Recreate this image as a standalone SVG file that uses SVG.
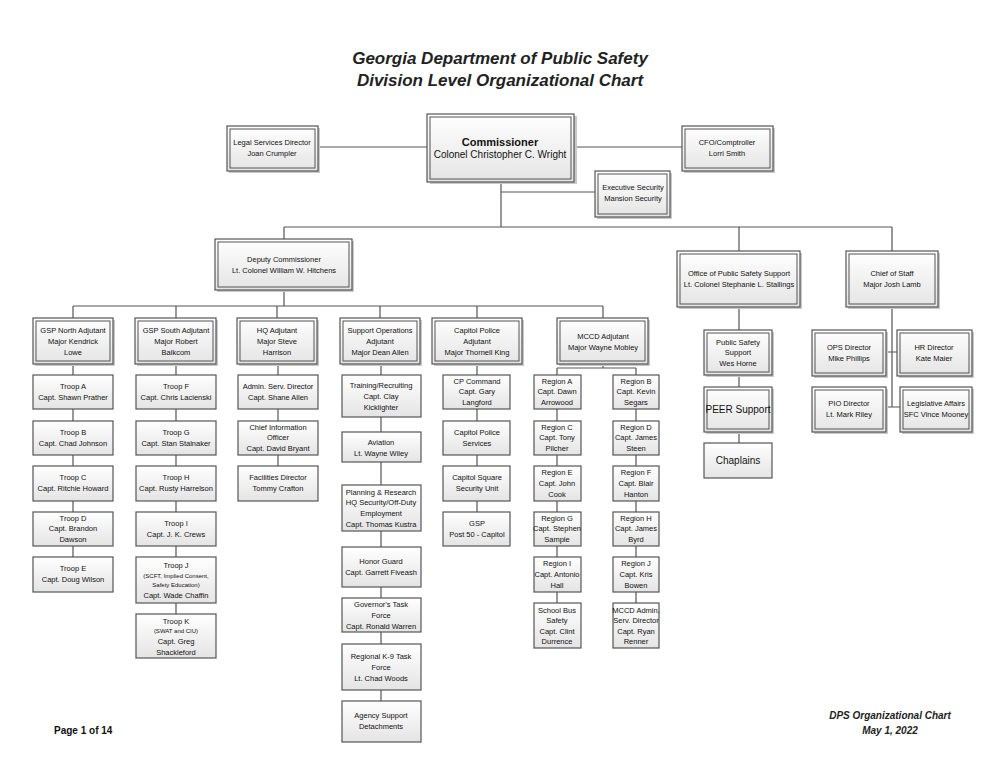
<svg xmlns="http://www.w3.org/2000/svg" width="1000" height="773" viewBox="0 0 1000 773">
<defs>
<linearGradient id="g" x1="0" y1="0" x2="0" y2="1"><stop offset="0" stop-color="#ffffff"/><stop offset="1" stop-color="#e4e4e4"/></linearGradient>
</defs>
<style>
.s{fill:#c8c8c8;stroke:none}
.b{fill:url(#g);stroke:#555;stroke-width:1.2}
.i{fill:none;stroke:#555;stroke-width:1}
.c{fill:none;stroke:#555;stroke-width:1.2}
text{font-family:"Liberation Sans",Arial,sans-serif;font-size:7.5px;fill:#111;text-anchor:middle}
.t{font-size:17px;font-weight:bold;font-style:italic;fill:#222}
.f{font-size:10px;font-weight:bold;font-style:italic;fill:#222}
.p{font-size:10px;font-weight:bold;text-anchor:start}
.big{font-size:10px}
.cb{font-size:11px;font-weight:bold}
</style>
<rect width="1000" height="773" fill="#fff"/>
<text class="t" x="500" y="64">Georgia Department of Public Safety</text>
<text class="t" x="500" y="86">Division Level Organizational Chart</text>

<g id="connectors">
<path class="c" d="M318 147H428M574 147H682M501 182V227M501 192H595M284 227H892M284 227V239M739 227V251M892 227V251"/>
<path class="c" d="M284 290V306M73 306H603M73 306V318M176 306V318M277 306V318M380 306V318M477 306V318M603 306V318"/>
<path class="c" d="M73 364V557M176 364V614M278 364V466M381 364V701M477 364V512"/>
<path class="c" d="M603 364V368M557 368H636M557 368V603M636 368V603"/>
<path class="c" d="M739 307V443M892 307V407M886 352H897M886 407H900"/>
</g>

<g id="commissioner"><rect class="s" x="430" y="116" width="147" height="68"/><rect class="b" x="427" y="114" width="147" height="68"/><rect class="i" x="430" y="117" width="141" height="62"/><text class="cb" x="500" y="146">Commissioner</text><text class="big" x="500" y="158">Colonel Christopher C. Wright</text></g>
<g id="legal"><rect class="s" x="229" y="128" width="91" height="45"/><rect class="b" x="227" y="126" width="91" height="45"/><rect class="i" x="230" y="129" width="85" height="39"/><text x="272" y="145">Legal Services Director</text><text x="272" y="156">Joan Crumpler</text></g>
<g id="cfo"><rect class="s" x="684" y="128" width="91" height="45"/><rect class="b" x="682" y="126" width="91" height="45"/><rect class="i" x="685" y="129" width="85" height="39"/><text x="727" y="145">CFO/Comptroller</text><text x="727" y="156">Lorri Smith</text></g>
<g id="execsec"><rect class="s" x="597" y="173" width="75" height="46"/><rect class="b" x="595" y="171" width="75" height="46"/><rect class="i" x="598" y="174" width="69" height="40"/><text x="633" y="190">Executive Security</text><text x="633" y="201">Mansion Security</text></g>

<g id="deputy"><rect class="s" x="217" y="241" width="137" height="51"/><rect class="b" x="215" y="239" width="137" height="51"/><rect class="i" x="218" y="242" width="131" height="45"/><text x="284" y="262">Deputy Commissioner</text><text x="284" y="273">Lt. Colonel William W. Hitchens</text></g>
<g id="opss"><rect class="s" x="679" y="253" width="123" height="56"/><rect class="b" x="677" y="251" width="123" height="56"/><rect class="i" x="680" y="254" width="117" height="50"/><text x="739" y="276">Office of Public Safety Support</text><text x="739" y="287">Lt. Colonel Stephanie L. Stallings</text></g>
<g id="chiefstaff"><rect class="s" x="848" y="253" width="92" height="56"/><rect class="b" x="846" y="251" width="92" height="56"/><rect class="i" x="849" y="254" width="86" height="50"/><text x="892" y="276">Chief of Staff</text><text x="892" y="287">Major Josh Lamb</text></g>

<g id="gspnorth"><rect class="s" x="35" y="320" width="80" height="46"/><rect class="b" x="33" y="318" width="80" height="46"/><rect class="i" x="36" y="321" width="74" height="40"/><text x="73" y="333">GSP North Adjutant</text><text x="73" y="344">Major Kendrick</text><text x="73" y="355">Lowe</text></g>
<g id="gspsouth"><rect class="s" x="137" y="320" width="81" height="46"/><rect class="b" x="135" y="318" width="81" height="46"/><rect class="i" x="138" y="321" width="75" height="40"/><text x="176" y="333">GSP South Adjutant</text><text x="176" y="344">Major Robert</text><text x="176" y="355">Balkcom</text></g>
<g id="hqadj"><rect class="s" x="239" y="320" width="80" height="46"/><rect class="b" x="237" y="318" width="80" height="46"/><rect class="i" x="240" y="321" width="74" height="40"/><text x="277" y="333">HQ Adjutant</text><text x="277" y="344">Major Steve</text><text x="277" y="355">Harrison</text></g>
<g id="supportops"><rect class="s" x="342" y="320" width="80" height="46"/><rect class="b" x="340" y="318" width="80" height="46"/><rect class="i" x="343" y="321" width="74" height="40"/><text x="380" y="333">Support Operations</text><text x="380" y="344">Adjutant</text><text x="380" y="355">Major Dean Allen</text></g>
<g id="capadj"><rect class="s" x="434" y="320" width="90" height="46"/><rect class="b" x="432" y="318" width="90" height="46"/><rect class="i" x="435" y="321" width="84" height="40"/><text x="477" y="333">Capitol Police</text><text x="477" y="344">Adjutant</text><text x="477" y="355">Major Thornell King</text></g>
<g id="mccdadj"><rect class="s" x="559" y="320" width="91" height="46"/><rect class="b" x="557" y="318" width="91" height="46"/><rect class="i" x="560" y="321" width="85" height="40"/><text x="603" y="339">MCCD Adjutant</text><text x="603" y="350">Major Wayne Mobley</text></g>

<g id="troopa"><rect class="b" x="33" y="375" width="80" height="34"/><text x="73" y="389">Troop A</text><text x="73" y="400">Capt. Shawn Prather</text></g>
<g id="troopb"><rect class="b" x="33" y="421" width="80" height="34"/><text x="73" y="435">Troop B</text><text x="73" y="446">Capt. Chad Johnson</text></g>
<g id="troopc"><rect class="b" x="33" y="466" width="80" height="35"/><text x="73" y="480">Troop C</text><text x="73" y="491">Capt. Ritchie Howard</text></g>
<g id="troopd"><rect class="b" x="33" y="512" width="80" height="34"/><text x="73" y="521">Troop D</text><text x="73" y="531">Capt. Brandon</text><text x="73" y="542">Dawson</text></g>
<g id="troope"><rect class="b" x="33" y="557" width="80" height="35"/><text x="73" y="571">Troop E</text><text x="73" y="582">Capt. Doug Wilson</text></g>

<g id="troopf"><rect class="b" x="136" y="375" width="80" height="34"/><text x="176" y="389">Troop F</text><text x="176" y="400">Capt. Chris Lacienski</text></g>
<g id="troopg"><rect class="b" x="136" y="421" width="80" height="34"/><text x="176" y="435">Troop G</text><text x="176" y="446">Capt. Stan Stalnaker</text></g>
<g id="trooph"><rect class="b" x="136" y="466" width="80" height="35"/><text x="176" y="480">Troop H</text><text x="176" y="491">Capt. Rusty Harrelson</text></g>
<g id="troopi"><rect class="b" x="136" y="512" width="80" height="34"/><text x="176" y="526">Troop I</text><text x="176" y="537">Capt. J. K. Crews</text></g>
<g id="troopj"><rect class="b" x="136" y="557" width="80" height="46"/><text x="176" y="568">Troop J</text><text x="176" y="578" style="font-size:6px">(SCFT, Implied Consent,</text><text x="176" y="587" style="font-size:6px">Safety Education)</text><text x="176" y="598">Capt. Wade Chaffin</text></g>
<g id="troopk"><rect class="b" x="136" y="614" width="80" height="44"/><text x="176" y="624">Troop K</text><text x="176" y="633" style="font-size:6px">(SWAT and CIU)</text><text x="176" y="644">Capt. Greg</text><text x="176" y="655">Shackleford</text></g>

<g id="admin"><rect class="b" x="238" y="375" width="80" height="34"/><text x="278" y="389">Admin. Serv. Director</text><text x="278" y="400">Capt. Shane Allen</text></g>
<g id="cio"><rect class="b" x="238" y="421" width="80" height="34"/><text x="278" y="430">Chief Information</text><text x="278" y="440">Officer</text><text x="278" y="451">Capt. David Bryant</text></g>
<g id="facilities"><rect class="b" x="238" y="466" width="80" height="35"/><text x="278" y="480">Facilities Director</text><text x="278" y="491">Tommy Crafton</text></g>

<g id="training"><rect class="b" x="342" y="375" width="79" height="42"/><text x="381" y="388">Training/Recruiting</text><text x="381" y="399">Capt. Clay</text><text x="381" y="410">Kicklighter</text></g>
<g id="aviation"><rect class="b" x="342" y="432" width="79" height="30"/><text x="381" y="445">Aviation</text><text x="381" y="456">Lt. Wayne Wiley</text></g>
<g id="planning"><rect class="b" x="342" y="485" width="79" height="46"/><text x="381" y="495">Planning &amp; Research</text><text x="381" y="505">HQ Security/Off-Duty</text><text x="381" y="516">Employment</text><text x="381" y="527">Capt. Thomas Kustra</text></g>
<g id="honor"><rect class="b" x="342" y="547" width="79" height="40"/><text x="381" y="564">Honor Guard</text><text x="381" y="575">Capt. Garrett Fiveash</text></g>
<g id="governor"><rect class="b" x="342" y="598" width="79" height="34"/><text x="381" y="607">Governor's Task</text><text x="381" y="618">Force</text><text x="381" y="629">Capt. Ronald Warren</text></g>
<g id="k9"><rect class="b" x="342" y="644" width="79" height="46"/><text x="381" y="659">Regional K-9 Task</text><text x="381" y="670">Force</text><text x="381" y="681">Lt. Chad Woods</text></g>
<g id="agency"><rect class="b" x="342" y="701" width="79" height="41"/><text x="381" y="718">Agency Support</text><text x="381" y="729">Detachments</text></g>

<g id="cpcommand"><rect class="b" x="443" y="375" width="67" height="34"/><text x="477" y="384">CP Command</text><text x="477" y="394">Capt. Gary</text><text x="477" y="405">Langford</text></g>
<g id="cpservices"><rect class="b" x="443" y="421" width="67" height="34"/><text x="477" y="435">Capitol Police</text><text x="477" y="446">Services</text></g>
<g id="capsquare"><rect class="b" x="443" y="466" width="67" height="35"/><text x="477" y="480">Capitol Square</text><text x="477" y="491">Security Unit</text></g>
<g id="gsp50"><rect class="b" x="443" y="512" width="67" height="34"/><text x="477" y="526">GSP</text><text x="477" y="537">Post 50 - Capitol</text></g>

<g id="regiona"><rect class="b" x="534" y="375" width="47" height="34"/><text x="557" y="384">Region A</text><text x="557" y="394">Capt. Dawn</text><text x="557" y="405">Arrowood</text></g>
<g id="regionc"><rect class="b" x="534" y="421" width="47" height="34"/><text x="557" y="430">Region C</text><text x="557" y="440">Capt. Tony</text><text x="557" y="451">Pilcher</text></g>
<g id="regione"><rect class="b" x="534" y="466" width="47" height="35"/><text x="557" y="475">Region E</text><text x="557" y="486">Capt. John</text><text x="557" y="497">Cook</text></g>
<g id="regiong"><rect class="b" x="534" y="512" width="47" height="34"/><text x="557" y="521">Region G</text><text x="557" y="531">Capt. Stephen</text><text x="557" y="542">Sample</text></g>
<g id="regioni"><rect class="b" x="534" y="557" width="47" height="35"/><text x="557" y="566">Region I</text><text x="557" y="577">Capt. Antonio</text><text x="557" y="588">Hall</text></g>
<g id="schoolbus"><rect class="b" x="534" y="603" width="47" height="45"/><text x="557" y="613">School Bus</text><text x="557" y="623">Safety</text><text x="557" y="634">Capt. Clint</text><text x="557" y="644">Durrence</text></g>

<g id="regionb"><rect class="b" x="613" y="375" width="46" height="34"/><text x="636" y="384">Region B</text><text x="636" y="394">Capt. Kevin</text><text x="636" y="405">Segars</text></g>
<g id="regiond"><rect class="b" x="613" y="421" width="46" height="34"/><text x="636" y="430">Region D</text><text x="636" y="440">Capt. James</text><text x="636" y="451">Steen</text></g>
<g id="regionf"><rect class="b" x="613" y="466" width="46" height="35"/><text x="636" y="475">Region F</text><text x="636" y="486">Capt. Blair</text><text x="636" y="497">Hanton</text></g>
<g id="regionh"><rect class="b" x="613" y="512" width="46" height="34"/><text x="636" y="521">Region H</text><text x="636" y="531">Capt. James</text><text x="636" y="542">Byrd</text></g>
<g id="regionj"><rect class="b" x="613" y="557" width="46" height="35"/><text x="636" y="566">Region J</text><text x="636" y="577">Capt. Kris</text><text x="636" y="588">Bowen</text></g>
<g id="mccdadmin"><rect class="b" x="613" y="603" width="46" height="45"/><text x="636" y="613">MCCD Admin.</text><text x="636" y="623">Serv. Director</text><text x="636" y="634">Capt. Ryan</text><text x="636" y="644">Renner</text></g>

<g id="pss"><rect class="s" x="706" y="332" width="68" height="45"/><rect class="b" x="704" y="330" width="68" height="45"/><rect class="i" x="707" y="333" width="62" height="39"/><text x="738" y="345">Public Safety</text><text x="738" y="355">Support</text><text x="738" y="366">Wes Horne</text></g>
<g id="peer"><rect class="s" x="706" y="389" width="68" height="45"/><rect class="b" x="704" y="387" width="68" height="45"/><rect class="i" x="707" y="390" width="62" height="39"/><text class="big" x="738" y="413">PEER Support</text></g>
<g id="chaplains"><rect class="b" x="704" y="443" width="68" height="35"/><text class="big" x="738" y="464">Chaplains</text></g>

<g id="opsdir"><rect class="s" x="814" y="332" width="74" height="46"/><rect class="b" x="812" y="330" width="74" height="46"/><rect class="i" x="815" y="333" width="68" height="40"/><text x="849" y="350">OPS Director</text><text x="849" y="361">Mike Phillips</text></g>
<g id="hrdir"><rect class="s" x="899" y="332" width="75" height="46"/><rect class="b" x="897" y="330" width="75" height="46"/><rect class="i" x="900" y="333" width="69" height="40"/><text x="934" y="350">HR Director</text><text x="934" y="361">Kate Maier</text></g>
<g id="piodir"><rect class="s" x="814" y="389" width="74" height="45"/><rect class="b" x="812" y="387" width="74" height="45"/><rect class="i" x="815" y="390" width="68" height="39"/><text x="849" y="406">PIO Director</text><text x="849" y="417">Lt. Mark Riley</text></g>
<g id="legislative"><rect class="s" x="902" y="389" width="72" height="45"/><rect class="b" x="900" y="387" width="72" height="45"/><rect class="i" x="903" y="390" width="66" height="39"/><text x="936" y="406">Legislative Affairs</text><text x="936" y="417">SFC Vince Mooney</text></g>

<text class="p" x="54" y="734">Page 1 of 14</text>
<text class="f" x="890" y="719">DPS Organizational Chart</text>
<text class="f" x="890" y="734">May 1, 2022</text>
</svg>
